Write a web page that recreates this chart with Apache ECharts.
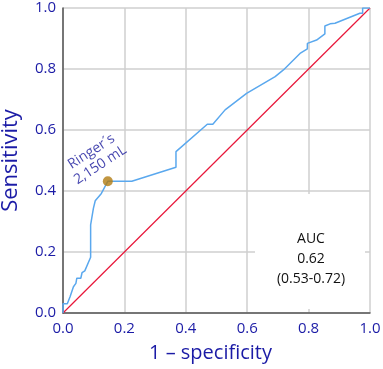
<!DOCTYPE html>
<html><head><meta charset="utf-8">
<script src="https://cdn.jsdelivr.net/npm/echarts@6/dist/echarts.min.js"></script>
<style>html,body{margin:0;padding:0;background:#fff}#c{width:383px;height:369px}</style>
</head><body><div id="c"></div>
<script>
// ROC curve: 1 - specificity (x) and sensitivity (y)
const fpr = [0, 0, 0.014, 0.023, 0.034, 0.042, 0.045, 0.058, 0.062, 0.071, 0.090, 0.090, 0.099, 0.105, 0.125, 0.146, 0.224, 0.368, 0.368, 0.470, 0.488, 0.528, 0.533, 0.598, 0.691, 0.718, 0.772, 0.796, 0.796, 0.826, 0.853, 0.853, 0.870, 0.886, 0.967, 0.976, 0.976, 1.0];
const tpr = [0, 0.030, 0.030, 0.053, 0.086, 0.097, 0.114, 0.114, 0.132, 0.138, 0.183, 0.289, 0.343, 0.368, 0.392, 0.432, 0.432, 0.478, 0.529, 0.619, 0.619, 0.666, 0.671, 0.720, 0.775, 0.797, 0.851, 0.866, 0.884, 0.895, 0.915, 0.941, 0.948, 0.950, 0.983, 0.983, 1.0, 1.0];
const refX = [0, 1];
const refY = [0, 1];
const cutoffPoint = [0.146, 0.432];
const cutoffLabel = "Ringer´s\n2,150 mL";
const aucLines = ["AUC", "0.62", "(0.53-0.72)"];
const tickLabels = ["0.0", "0.2", "0.4", "0.6", "0.8", "1.0"];
const xTitle = "1 – specificity";
const yTitle = "Sensitivity";

const blue = '#1b1ba6';
const chart = echarts.init(document.getElementById('c'), null, {renderer: 'canvas'});
const fmt = v => tickLabels[Math.round(v / 0.2)] || '';
const axisCommon = {
  type: 'value', min: 0, max: 1, interval: 0.2,
  axisLine: {show: true, lineStyle: {color: '#555', width: 1.5}},
  axisTick: {show: false},
  splitLine: {show: true, lineStyle: {color: '#cfcfcf', width: 1.5}},
  axisLabel: {color: blue, fontSize: 15, fontFamily: 'Open Sans', formatter: fmt},
  nameLocation: 'middle',
  nameTextStyle: {color: blue, fontSize: 20, fontFamily: 'Open Sans'}
};
chart.setOption({
  animation: false,
  grid: {left: 63, right: 13, top: 8, bottom: 56, containLabel: false, outerBoundsMode: 'none'},
  xAxis: Object.assign({}, axisCommon, {name: xTitle, nameGap: 30,
    nameTextStyle: {color: blue, fontSize: 20, fontFamily: 'Open Sans', padding: [0, 12, 0, 0]},
    axisLabel: Object.assign({}, axisCommon.axisLabel, {margin: 8})}),
  yAxis: Object.assign({}, axisCommon, {name: yTitle, nameGap: 41,
    nameTextStyle: {color: blue, fontSize: 22, fontFamily: 'Open Sans'},
    axisLabel: Object.assign({}, axisCommon.axisLabel, {margin: 7})}),
  series: [
    {type: 'line', data: refX.map((x, i) => [x, refY[i]]), symbol: 'none',
     lineStyle: {color: '#e8173a', width: 1.2}, z: 3},
    {type: 'line', data: fpr.map((x, i) => [x, tpr[i]]), symbol: 'none',
     lineStyle: {color: '#5aa8ee', width: 1.5}, z: 4},
    {type: 'scatter', data: [cutoffPoint], symbolSize: 10,
     itemStyle: {color: '#b27c12'}, z: 5,
     label: {show: true, position: [-7, -18], formatter: cutoffLabel, rotate: 33,
       color: '#14149a', fontSize: 14, fontFamily: 'Open Sans', align: 'center',
       verticalAlign: 'middle', lineHeight: 16}}
  ],
  graphic: [
    {type: 'rect', shape: {x: 255, y: 194, width: 110, height: 115},
     style: {fill: '#fff'}, z: 10},
    {type: 'text', x: 311, y: 259, z: 11,
     style: {text: aucLines.join('\n'), fill: '#111', font: '14px "Open Sans"',
       align: 'center', verticalAlign: 'middle', lineHeight: 20}}
  ]
});
</script></body></html>
